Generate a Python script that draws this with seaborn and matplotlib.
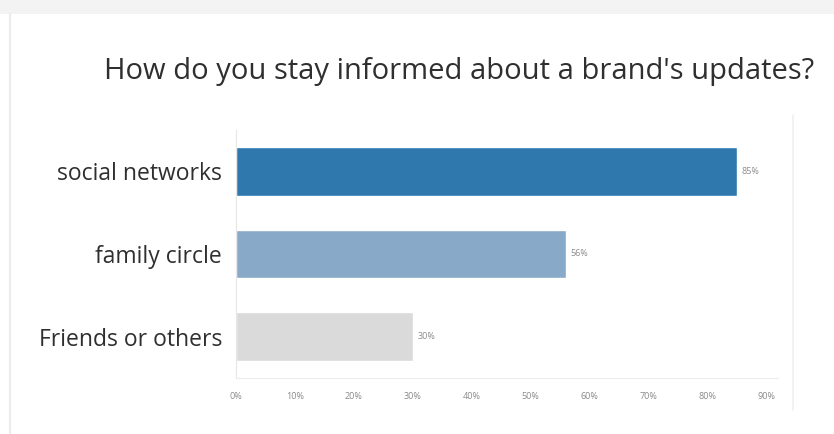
import matplotlib
matplotlib.use("Agg")
import matplotlib.pyplot as plt
import seaborn as sns
import pandas as pd
from matplotlib.lines import Line2D
from matplotlib.patches import Rectangle

# Survey results
categories = ["social networks", "family circle", "Friends or others"]
shares = [85, 56, 30]
bar_colors = ["#2E78AE", "#88AAC8", "#DADADA"]
tick_values = [0, 10, 20, 30, 40, 50, 60, 70, 80, 90]
tick_labels = [f"{v}%" for v in tick_values]
title = "How do you stay informed about a brand's updates?"

sns.set_theme(style="white")
plt.rcParams["font.family"] = ["Open Sans", "DejaVu Sans"]

df = pd.DataFrame({"category": categories, "share": shares})

fig = plt.figure(figsize=(8.34, 4.34), dpi=100)
fig.patch.set_facecolor("white")

# card outline: soft top shadow and thin left edge
fig.add_artist(Rectangle((0, 1 - 14 / 434), 1, 14 / 434, transform=fig.transFigure,
                         facecolor="#F3F3F3", edgecolor="none", zorder=0))
fig.add_artist(Line2D([10 / 834, 10 / 834], [0, 1 - 14 / 434], transform=fig.transFigure,
                      color="#EBEBEB", lw=1.5))
fig.add_artist(Line2D([793 / 834, 793 / 834], [1 - 410 / 434, 1 - 115 / 434],
                      transform=fig.transFigure, color="#F0F0F0", lw=1.2))

ax = fig.add_axes([236 / 834, 1 - 378 / 434, (790 - 236) / 834, (378 - 130) / 434])
sns.barplot(data=df, x="share", y="category", hue="category", palette=bar_colors,
            legend=False, width=0.59, ax=ax, saturation=1)

ax.set_xlim(0, 94)
ax.set_ylim(2.5, -0.5)
ax.set_xticks(tick_values)
ax.set_xticklabels(tick_labels, fontsize=6.5, color="#8A8A8A")
ax.tick_params(axis="x", length=0, pad=10)
ax.tick_params(axis="y", length=0, pad=10, labelsize=16.5, labelcolor="#2F2F2F")
ax.set_xlabel("")
ax.set_ylabel("")

for side in ["top", "right"]:
    ax.spines[side].set_visible(False)
ax.spines["left"].set_color("#E6E6E6")
ax.spines["bottom"].set_color("#ECECEC")
ax.spines["left"].set_linewidth(0.8)
ax.spines["bottom"].set_linewidth(0.8)
ax.spines["bottom"].set_bounds(0, 92)

for i, v in enumerate(shares):
    ax.text(v + 0.8, i, f"{v}%", va="center", ha="left", fontsize=6.5, color="#8A8A8A")

fig.text(459 / 834, 1 - 72 / 434, title, ha="center", va="center",
         fontsize=21, color="#2F2F2F")

fig.savefig("out.png", dpi=100, facecolor="white")
